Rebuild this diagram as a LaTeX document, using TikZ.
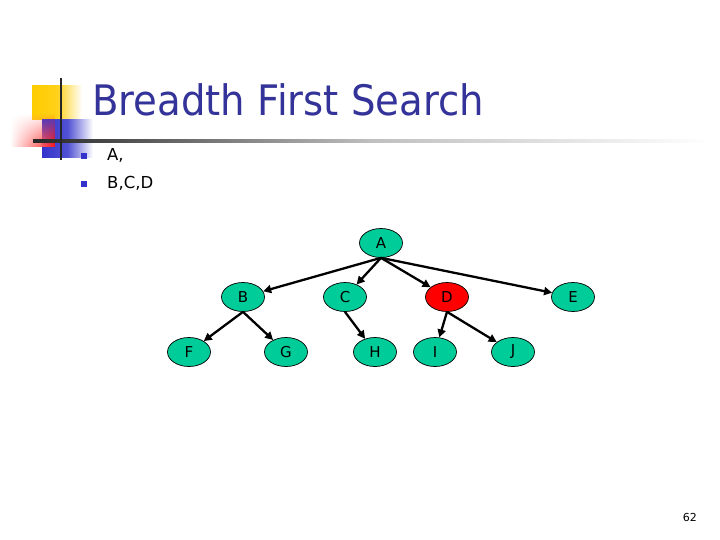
\documentclass[tikz,border=0pt]{standalone}
\usepackage{fontspec}
\setmainfont{DejaVu Sans}
\usetikzlibrary{shapes.geometric,arrows.meta,fadings}
\definecolor{nodegreen}{RGB}{0,204,153}
\definecolor{nodered}{RGB}{255,0,0}
\definecolor{titleblue}{RGB}{51,51,153}
\definecolor{bulletblue}{RGB}{51,51,204}
\definecolor{decoyellow}{RGB}{255,204,0}
\definecolor{decored}{RGB}{255,20,20}
\definecolor{decoblue}{RGB}{51,51,204}
\tikzset{
  treenode/.style={ellipse, draw=black, line width=0.7pt, fill=nodegreen,
    minimum width=43pt, minimum height=29pt, inner sep=0pt,
    font=\fontsize{15}{15}\selectfont},
  visited/.style={treenode, fill=nodered},
  arr/.style={-{Triangle[length=8pt,width=8pt]}, line width=2.3pt, black},
  bodytext/.style={anchor=base west, inner sep=0pt, font=\fontsize{16.5}{16.5}\selectfont},
  bulletsq/.style={fill=bulletblue, minimum size=6pt, inner sep=0pt, draw=none}
}
\begin{document}
\begin{tikzpicture}[x=1pt,y=-1pt]
\useasboundingbox (0,0) rectangle (720,540);
% decoration
\shade[left color=decoyellow, right color=white, middle color=decoyellow!90] (32,86) rectangle (82,120);
\shade[left color=decoblue, right color=white, middle color=decoblue!85] (42,120) rectangle (93,158);
\shade[left color=white, right color=decored, path fading=north] (10,113) rectangle (55,147);
\shade[left color=black!85, right color=white, middle color=black!25] (33,139.5) rectangle (710,142.5);
\draw[line width=2.5pt, black!85] (61,78) -- (61,160);
% title
\node[anchor=base west, inner sep=0pt, text=titleblue, xscale=0.92,
  font=\fontsize{42}{42}\selectfont] (title) at (92,116) {Breadth First Search};
% bullets
\node[bulletsq] (b1) at (84,156) {};
\node[bulletsq] (b2) at (84,184) {};
\node[bodytext] (t1) at (107,161) {A,};
\node[bodytext] (t2) at (107,189) {B,C,D};
% tree
\node[treenode] (A) at (381,243) {A};
\node[treenode] (B) at (243,297) {B};
\node[treenode] (C) at (345,297) {C};
\node[visited]  (D) at (447,297) {D};
\node[treenode] (E) at (573,297) {E};
\node[treenode] (F) at (189,352) {F};
\node[treenode] (G) at (286,352) {G};
\node[treenode] (H) at (375,352) {H};
\node[treenode] (I) at (435,352) {I};
\node[treenode] (J) at (513,352) {J};
\draw[arr] (A.south) -- (B);
\draw[arr] (A.south) -- (C);
\draw[arr] (A.south) -- (D);
\draw[arr] (A.south) -- (E);
\draw[arr] (B.south) -- (F);
\draw[arr] (B.south) -- (G);
\draw[arr] (C.south) -- (H);
\draw[arr] (D.south) -- (I);
\draw[arr] (D.south) -- (J);
% page number
\node[anchor=base east, inner sep=0pt, font=\fontsize{11}{11}\selectfont] (pg) at (697,521) {62};
\end{tikzpicture}
\end{document}
